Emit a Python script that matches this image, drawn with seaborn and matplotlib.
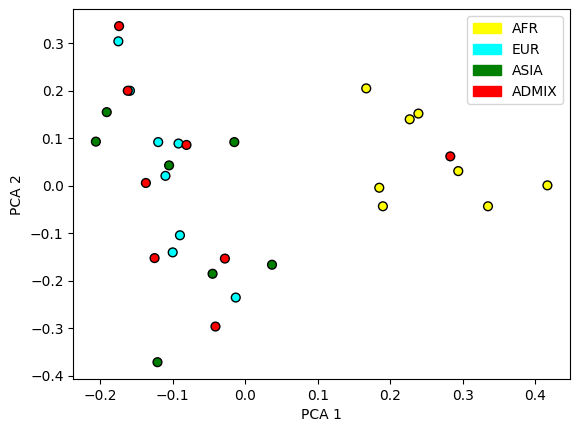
import matplotlib
matplotlib.use("Agg")
import matplotlib.pyplot as plt
import matplotlib.patches as mpatches
import pandas as pd
import seaborn as sns

# PCA coordinates per population
afr_pc1 = [0.167, 0.239, 0.227, 0.294, 0.417, 0.185, 0.190, 0.335]
afr_pc2 = [0.205, 0.152, 0.140, 0.031, 0.001, -0.004, -0.043, -0.043]

eur_pc1 = [-0.175, -0.159, -0.120, -0.092, -0.110, -0.090, -0.100, -0.013]
eur_pc2 = [0.304, 0.200, 0.092, 0.089, 0.021, -0.104, -0.140, -0.235]

asia_pc1 = [-0.191, -0.206, -0.015, -0.105, 0.037, -0.045, -0.121]
asia_pc2 = [0.155, 0.093, 0.092, 0.043, -0.166, -0.185, -0.371]

admix_pc1 = [-0.174, -0.162, -0.081, -0.137, -0.125, -0.028, -0.041, 0.283]
admix_pc2 = [0.336, 0.200, 0.086, 0.006, -0.152, -0.153, -0.296, 0.062]

groups = ["AFR", "EUR", "ASIA", "ADMIX"]
colors = {"AFR": "yellow", "EUR": "cyan", "ASIA": "green", "ADMIX": "red"}

df = pd.concat([
    pd.DataFrame({"PC1": afr_pc1, "PC2": afr_pc2, "pop": "AFR"}),
    pd.DataFrame({"PC1": eur_pc1, "PC2": eur_pc2, "pop": "EUR"}),
    pd.DataFrame({"PC1": asia_pc1, "PC2": asia_pc2, "pop": "ASIA"}),
    pd.DataFrame({"PC1": admix_pc1, "PC2": admix_pc2, "pop": "ADMIX"}),
], ignore_index=True)

fig, ax = plt.subplots(figsize=(5.78, 4.32), dpi=100)
fig.subplots_adjust(left=73.3 / 578, right=570 / 578, bottom=53 / 432, top=1 - 9.3 / 432)

sns.scatterplot(data=df, x="PC1", y="PC2", hue="pop", palette=colors,
                edgecolor="black", linewidth=1, s=40, legend=False, ax=ax)

handles = [mpatches.Patch(color=colors[g], label=g) for g in groups]
ax.legend(handles=handles, loc="upper right")

ax.set_xlabel("PCA 1")
ax.set_ylabel("PCA 2")

fig.savefig("out.png", dpi=100)
